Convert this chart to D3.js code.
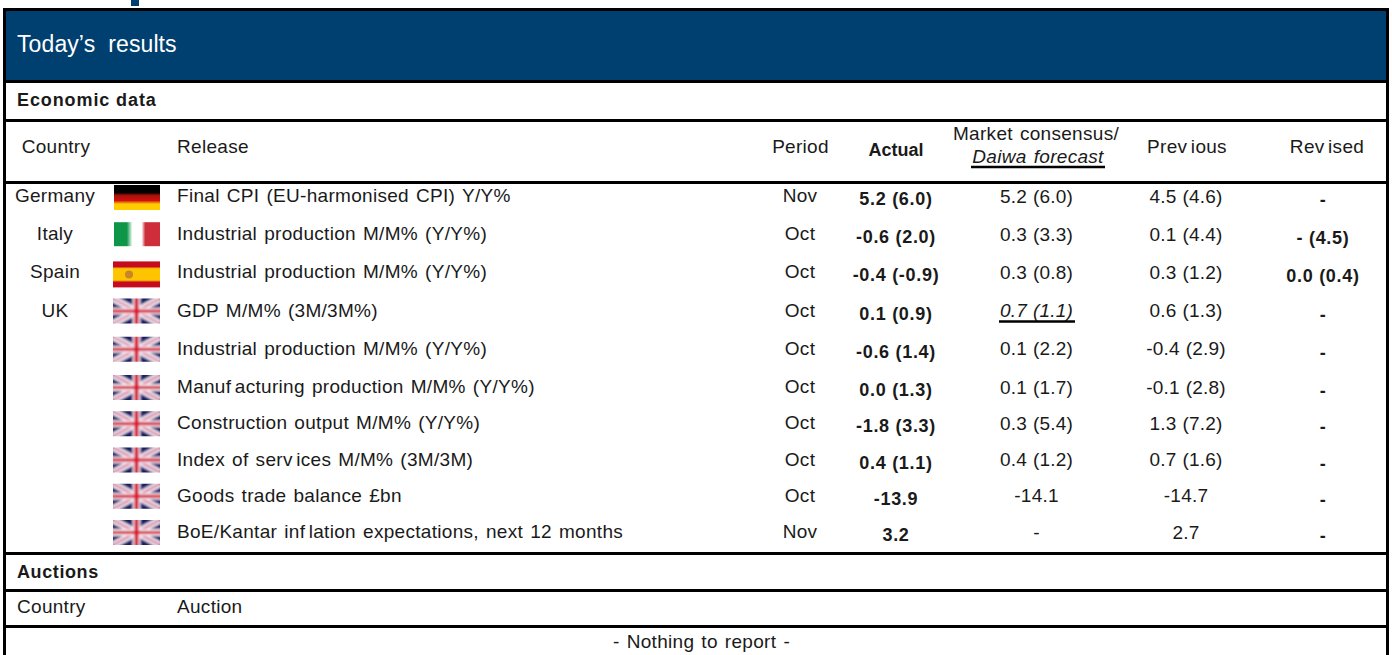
<!DOCTYPE html>
<html>
<head>
<meta charset="utf-8">
<script src="https://cdnjs.cloudflare.com/ajax/libs/d3/7.8.5/d3.min.js"></script>
<style>
html, body { margin: 0; padding: 0; background: #fff; }
svg { display: block; }
text { font-family: "Liberation Sans", Arial, sans-serif; fill: #1a1a1a; white-space: pre; }
</style>
</head>
<body>
<div id="table"></div>
<script>
var w = 1392, h = 655;

var countries = ["Germany", "Italy", "Spain", "UK", "", "", "", "", "", ""];
var flags = ["de", "it", "es", "uk", "uk", "uk", "uk", "uk", "uk", "uk"];
var releases = [
  "Final CPI (EU-harmonised CPI) Y/Y%",
  "Industrial production M/M% (Y/Y%)",
  "Industrial production M/M% (Y/Y%)",
  "GDP M/M% (3M/3M%)",
  "Industrial production M/M% (Y/Y%)",
  "Manufacturing production M/M% (Y/Y%)",
  "Construction output M/M% (Y/Y%)",
  "Index of services M/M% (3M/3M)",
  "Goods trade balance £bn",
  "BoE/Kantar inflation expectations, next 12 months"
];
var periods = ["Nov", "Oct", "Oct", "Oct", "Oct", "Oct", "Oct", "Oct", "Oct", "Nov"];
var actual = ["5.2 (6.0)", "-0.6 (2.0)", "-0.4 (-0.9)", "0.1 (0.9)", "-0.6 (1.4)", "0.0 (1.3)", "-1.8 (3.3)", "0.4 (1.1)", "-13.9", "3.2"];
var consensus = ["5.2 (6.0)", "0.3 (3.3)", "0.3 (0.8)", "0.7 (1.1)", "0.1 (2.2)", "0.1 (1.7)", "0.3 (5.4)", "0.4 (1.2)", "-14.1", "-"];
var previous = ["4.5 (4.6)", "0.1 (4.4)", "0.3 (1.2)", "0.6 (1.3)", "-0.4 (2.9)", "-0.1 (2.8)", "1.3 (7.2)", "0.7 (1.6)", "-14.7", "2.7"];
var revised = ["-", "- (4.5)", "0.0 (0.4)", "-", "-", "-", "-", "-", "-", "-"];
var daiwaRow = 3; // the one consensus cell that is a Daiwa forecast

var svg = d3.select("#table").append("svg")
  .attr("width", w).attr("height", h)
  .attr("viewBox", "0 0 " + w + " " + h);

// row spacing tightens a little from the sixth row down
var rowY = d3.scaleLinear().domain([0, 5, 9]).range([202, 393, 538]);

var defs = svg.append("defs");
function hGrad(id, stops) {
  var g = defs.append("linearGradient").attr("id", id).attr("x1", 0).attr("x2", 0).attr("y1", 0).attr("y2", 1);
  stops.forEach(function(s) { g.append("stop").attr("offset", s[0]).attr("stop-color", s[1]); });
}
hGrad("deFlag", [[0, "#000"], [0.3, "#000"], [0.42, "#a81008"], [0.62, "#d01010"], [0.76, "#ffcc00"], [1, "#ffcc00"]]);
var itGrad = defs.append("linearGradient").attr("id", "itFlag");
[[0, "#0d9648"], [0.28, "#0d9648"], [0.4, "#fff"], [0.6, "#fff"], [0.68, "#cd2e3a"], [1, "#cd2e3a"]].forEach(function(s) {
  itGrad.append("stop").attr("offset", s[0]).attr("stop-color", s[1]);
});
hGrad("esFlag", [[0, "#c60b1e"], [0.2, "#c60b1e"], [0.28, "#ffc400"], [0.72, "#ffc400"], [0.8, "#c60b1e"], [1, "#c60b1e"]]);
defs.append("filter").attr("id", "soft").append("feGaussianBlur").attr("stdDeviation", 0.9);
defs.append("clipPath").attr("id", "ukClip").append("rect")
  .attr("x", 113).attr("y", -12.5).attr("width", 47).attr("height", 25);

function drawFlag(g, kind, base) {
  if (kind == "de") {
    g.append("rect").attr("x", 114).attr("y", base - 17).attr("width", 46).attr("height", 25).attr("fill", "url(#deFlag)");
  } else if (kind == "it") {
    g.append("rect").attr("x", 114).attr("y", base - 18).attr("width", 46).attr("height", 24).attr("fill", "url(#itFlag)");
  } else if (kind == "es") {
    g.append("rect").attr("x", 113).attr("y", base - 17).attr("width", 47).attr("height", 26).attr("fill", "url(#esFlag)");
    g.append("ellipse").attr("cx", 129).attr("cy", base - 4).attr("rx", 4).attr("ry", 4).attr("fill", "#c8862a");
  } else {
    var c = g.append("g").attr("transform", "translate(0," + (base - 5.5) + ")").attr("clip-path", "url(#ukClip)");
    var f = c.append("g").attr("filter", "url(#soft)");
    var x0 = 113, x1 = 160, y0 = -12.5, y1 = 12.5, xm = 136.5;
    f.append("rect").attr("x", x0 - 3).attr("y", y0 - 3).attr("width", x1 - x0 + 6).attr("height", y1 - y0 + 6).attr("fill", "#1c1c66");
    [[x0, y0, x1, y1], [x0, y1, x1, y0]].forEach(function(l) {
      f.append("line").attr("x1", l[0]).attr("y1", l[1]).attr("x2", l[2]).attr("y2", l[3]).attr("stroke", "#efe6f0").attr("stroke-width", 7);
      f.append("line").attr("x1", l[0]).attr("y1", l[1]).attr("x2", l[2]).attr("y2", l[3]).attr("stroke", "#d8587c").attr("stroke-width", 1.5);
    });
    f.append("rect").attr("x", xm - 4).attr("y", y0 - 3).attr("width", 8).attr("height", y1 - y0 + 6).attr("fill", "#f0e4ee");
    f.append("rect").attr("x", x0 - 3).attr("y", -3.5).attr("width", x1 - x0 + 6).attr("height", 7).attr("fill", "#f0e4ee");
    f.append("rect").attr("x", xm - 2).attr("y", y0 - 3).attr("width", 4).attr("height", y1 - y0 + 6).attr("fill", "#d81830");
    f.append("rect").attr("x", x0 - 3).attr("y", -1.5).attr("width", x1 - x0 + 6).attr("height", 3).attr("fill", "#d81830");
  }
}

// the source font leaves a gap after f and v inside words, words stay whole in the text
function label(x, y, str, anchor, opts) {
  opts = opts || {};
  var t = svg.append("text").attr("x", x).attr("y", y)
    .attr("text-anchor", anchor || "start")
    .attr("font-size", opts.size || 19)
    .attr("font-weight", opts.bold ? "bold" : "normal")
    .attr("font-style", opts.italic ? "italic" : "normal")
    .attr("letter-spacing", opts.ls === undefined ? 0.3 : opts.ls)
    .attr("word-spacing", opts.ws === undefined ? 1.5 : opts.ws)
    .style("fill", opts.fill || null);
  if (opts.bold || opts.italic) return t.text(str);
  str.split(/(?<=[a-z][fv])(?=[a-z])/).forEach(function(part, i) {
    t.append("tspan").attr("dx", i ? 3.5 : 0).text(part);
  });
  return t;
}

// stray bit of the page title above the frame, then the header band
svg.append("rect").attr("x", 131).attr("y", 0).attr("width", 8).attr("height", 6).attr("fill", "#004070");
svg.append("rect").attr("x", 6).attr("y", 11).attr("width", 1380).attr("height", 69).attr("fill", "#004070");
label(17, 52, "Today\u2019s  results", "start", {size: 23, fill: "#fff", ls: 0.1, ws: 0});

label(17, 106, "Economic data", "start", {size: 18, bold: true, ls: 0.9, ws: 0});
label(56, 153, "Country", "middle");
label(177, 153, "Release");
label(800.5, 153, "Period", "middle");
label(896, 156, "Actual", "middle", {bold: true, size: 18, ls: 0});
label(1036, 140, "Market consensus/", "middle");
label(1038, 163, "Daiwa forecast", "middle", {italic: true});
label(1187, 153, "Previous", "middle");
label(1327, 153, "Revised", "middle");

var rows = svg.append("g").attr("class", "rows");
releases.forEach(function(r, i) {
  var y = rowY(i);
  drawFlag(rows.append("g"), flags[i], y);
  label(55, y, countries[i], "middle");
  label(177, y, r);
  label(800, y, periods[i], "middle");
  label(896, y + 3, actual[i], "middle", {bold: true, size: 18, ls: 0.7, ws: 0});
  label(1036.5, y + 0.5, consensus[i], "middle", {italic: i == daiwaRow, ls: 0.2, ws: 0.5});
  label(1186, y + 0.5, previous[i], "middle", {ls: 0.2, ws: 0.5});
  label(1323, y + 4, revised[i], "middle", {bold: true, size: 18, ls: 0.7, ws: 0});
});

label(17, 578, "Auctions", "start", {size: 18, bold: true, ls: 0.6, ws: 0});
label(17, 613, "Country");
label(177, 613, "Auction");
label(701.5, 648, "- Nothing to report -", "middle");

// rules of the table
var hRules = [81.5, 120.5, 182.5, 553.5, 590.5, 626.5];
svg.selectAll("line.rule").data(hRules).enter().append("line")
  .attr("class", "rule")
  .attr("x1", 3).attr("x2", 1389)
  .attr("y1", function(d) { return d; }).attr("y2", function(d) { return d; })
  .attr("stroke", "#000").attr("stroke-width", 3);

// frame, open at the bottom where the crop ends
svg.append("path")
  .attr("d", "M4.5,655V9.5H1387.5V655")
  .attr("fill", "none").attr("stroke", "#000").attr("stroke-width", 3);

// underlines for the Daiwa cells
svg.append("line").attr("x1", 971).attr("x2", 1105).attr("y1", 167).attr("y2", 167).attr("stroke", "#000").attr("stroke-width", 2.5);
svg.append("line").attr("x1", 999).attr("x2", 1075).attr("y1", rowY(daiwaRow) + 5).attr("y2", rowY(daiwaRow) + 5).attr("stroke", "#000").attr("stroke-width", 2.5);
</script>
</body>
</html>
